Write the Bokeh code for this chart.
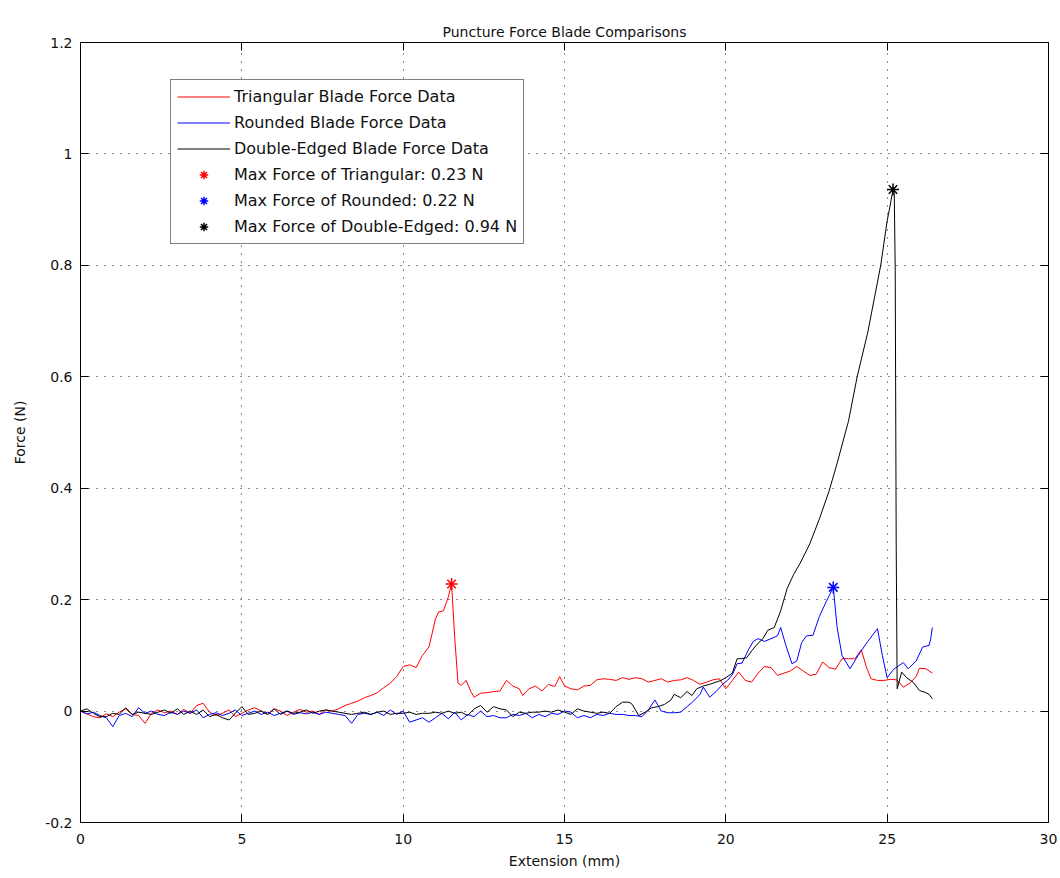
from bokeh.plotting import figure
from bokeh.models import (Range1d, LinearAxis, FixedTicker, CustomJSTickFormatter,
                          Legend, LegendItem, Title)
from bokeh.embed import file_html
from bokeh.resources import INLINE

# ---------------- data ----------------
tri_x = [0.0, 0.2, 0.4, 0.6, 0.8, 1.0, 1.2, 1.4, 1.6, 1.8, 2.0, 2.2, 2.4, 2.6, 2.8, 3.0, 3.2, 3.4, 3.6, 3.8,
         4.0, 4.2, 4.4, 4.6, 4.8, 5.0, 5.2, 5.4, 5.6, 5.8, 6.0, 6.2, 6.4, 6.6, 6.8, 7.0, 7.2, 7.4, 7.6, 7.8, 8.0,
         8.2, 8.4, 8.6, 8.8, 9.0, 9.2, 9.4, 9.6, 9.8, 10.0, 10.2, 10.4, 10.6, 10.8, 10.9, 11.0, 11.1, 11.25,
         11.4, 11.5, 11.6, 11.7, 11.8, 11.95, 12.1, 12.2, 12.4, 12.6, 12.8, 13.0, 13.2, 13.4, 13.6, 13.7, 13.9,
         14.1, 14.3, 14.5, 14.7, 14.85, 15.0, 15.2, 15.4, 15.6, 15.8, 16.0, 16.2, 16.4, 16.6, 16.8, 17.0, 17.2,
         17.4, 17.6, 17.8, 18.0, 18.2, 18.4, 18.6, 18.8, 19.0, 19.2, 19.4, 19.6, 19.8, 20.0, 20.2, 20.4, 20.6,
         20.8, 21.0, 21.2, 21.4, 21.6, 21.8, 22.0, 22.2, 22.4, 22.6, 22.8, 23.0, 23.2, 23.4, 23.6, 23.8, 24.0,
         24.2, 24.35, 24.5, 24.7, 24.9, 25.1, 25.3, 25.5, 25.7, 25.9, 26.0, 26.2, 26.4]
tri_y = [0.000, -0.005, -0.010, -0.012, -0.005, -0.010, -0.002, 0.004, -0.006, -0.008, -0.022, -0.004, 0.002,
         -0.003, 0.000, -0.006, 0.003, -0.004, 0.010, 0.014, -0.002, -0.008, -0.004, 0.002, -0.010, -0.004,
         0.002, 0.006, 0.000, -0.006, 0.004, 0.000, -0.008, -0.002, 0.003, -0.002, 0.000, -0.006, 0.002, 0.000,
         0.004,
         0.010, 0.014, 0.018, 0.024, 0.028, 0.033, 0.042, 0.050, 0.062, 0.080, 0.083, 0.078, 0.100, 0.115,
         0.140, 0.165, 0.178, 0.180, 0.205, 0.228, 0.130, 0.050, 0.046, 0.055, 0.035, 0.025, 0.032, 0.033,
         0.035, 0.036, 0.055, 0.045, 0.040, 0.028, 0.040, 0.045, 0.036, 0.048, 0.044, 0.062, 0.045, 0.040,
         0.038, 0.045, 0.046, 0.056, 0.058, 0.057, 0.055, 0.060, 0.057, 0.060, 0.058, 0.052, 0.055, 0.058,
         0.052, 0.055, 0.056, 0.060, 0.055, 0.048, 0.052, 0.056, 0.058, 0.040, 0.055, 0.070, 0.055, 0.052,
         0.068, 0.080, 0.078, 0.064, 0.068, 0.072, 0.080, 0.072, 0.064, 0.066, 0.088, 0.078, 0.075, 0.094,
         0.094, 0.094, 0.110, 0.080, 0.058, 0.055, 0.055, 0.057, 0.056, 0.043, 0.050, 0.062, 0.077, 0.076,
         0.068]

rnd_x = [0.0, 0.2, 0.4, 0.6, 0.8, 1.0, 1.2, 1.4, 1.6, 1.8, 2.0, 2.2, 2.4, 2.6, 2.8, 3.0, 3.2, 3.4, 3.6, 3.8,
         4.0, 4.2, 4.4, 4.6, 4.8, 5.0, 5.2, 5.4, 5.6, 5.8, 6.0, 6.2, 6.4, 6.6, 6.8, 7.0, 7.2, 7.4, 7.6, 7.8,
         8.0, 8.2, 8.4, 8.6, 8.8, 9.0, 9.2, 9.4, 9.6, 9.8, 10.0, 10.2, 10.4, 10.6, 10.8, 11.0, 11.2, 11.4, 11.6,
         11.8, 12.0, 12.2, 12.4, 12.6, 12.8, 13.0, 13.2, 13.4, 13.6, 13.8, 14.0, 14.2, 14.4, 14.6, 14.8, 15.0,
         15.2, 15.4, 15.6, 15.8, 16.0, 16.2, 16.4, 16.6, 16.8, 17.0, 17.2,
         17.4, 17.6, 17.8, 18.0, 18.2, 18.4, 18.6, 18.8, 19.0, 19.2, 19.3, 19.5, 19.7, 19.9, 20.05, 20.2,
         20.35, 20.5, 20.7, 20.85, 21.0, 21.2, 21.4, 21.6, 21.7, 21.85, 22.05, 22.2, 22.35, 22.5, 22.7, 22.9,
         23.1, 23.33, 23.45, 23.6, 23.85, 24.1, 24.4, 24.7, 24.85, 25.0, 25.2, 25.5, 25.65, 25.9, 26.1, 26.3,
         26.35, 26.4]
rnd_y = [0.000, -0.005, -0.002, -0.008, -0.012, -0.028, -0.008, -0.004, -0.010, 0.006, -0.004, 0.000, -0.006,
         -0.008, -0.002, -0.006, 0.000, -0.004, 0.002, -0.012, -0.006, -0.003, -0.008, -0.004, 0.002, -0.008,
         -0.004, 0.000, -0.006, -0.002, -0.008, -0.004, 0.000, -0.006, -0.003, -0.005, -0.002, -0.006, -0.002,
         -0.004, -0.006, -0.008, -0.022, -0.006, -0.004, -0.006, -0.002, -0.008, 0.002, -0.006, 0.000, -0.020,
         -0.016, -0.012, -0.020, -0.012, -0.004, -0.014, -0.002, -0.016, -0.006, -0.010, 0.000, -0.010, -0.008,
         -0.012, -0.012, -0.006, -0.008, -0.004, -0.012, -0.006, -0.010, -0.004, -0.006, 0.000, -0.002, -0.012,
         -0.008, -0.012, -0.006, -0.008, -0.004, -0.006, -0.006, -0.008, -0.008,
         -0.010, 0.002, 0.020, 0.000, -0.003, -0.003, -0.002, 0.008, 0.018, 0.030, 0.043, 0.025, 0.035, 0.048,
         0.055, 0.065, 0.085, 0.086, 0.110, 0.125, 0.130, 0.125, 0.130, 0.135, 0.150, 0.120, 0.085, 0.090,
         0.123, 0.135, 0.136, 0.170, 0.195, 0.222, 0.150, 0.100, 0.076, 0.100, 0.125, 0.148, 0.100, 0.060,
         0.075, 0.087, 0.076, 0.090, 0.115, 0.118, 0.130, 0.150]

dbl_x = [0.0, 0.2, 0.4, 0.6, 0.8, 1.0, 1.2, 1.4, 1.6, 1.8, 2.0, 2.2, 2.4, 2.6, 2.8, 3.0, 3.2, 3.4, 3.6, 3.8,
         4.0, 4.2, 4.4, 4.6, 4.8, 5.0, 5.2, 5.4, 5.6, 5.8, 6.0, 6.2, 6.4, 6.6, 6.8, 7.0, 7.2, 7.4, 7.6, 7.8,
         8.0, 8.2, 8.4, 8.6, 8.8, 9.0, 9.2, 9.4, 9.6, 9.8, 10.0, 10.2, 10.4, 10.6, 10.8, 11.0, 11.2, 11.4, 11.6,
         11.8, 12.0, 12.2, 12.4, 12.6, 12.8, 13.0, 13.2, 13.4, 13.6, 13.8, 14.0, 14.2, 14.4, 14.6, 14.8, 15.0,
         15.2, 15.4, 15.6, 15.8, 16.0, 16.2, 16.4, 16.6, 16.8, 17.0, 17.1, 17.3, 17.5, 17.7, 17.9, 18.1, 18.3,
         18.4, 18.6, 18.8, 18.95, 19.1, 19.3, 19.5, 19.7, 19.85, 20.0, 20.2, 20.35, 20.5, 20.65, 20.8, 20.97,
         21.15, 21.3, 21.5, 21.7, 21.9, 22.1, 22.3, 22.6, 22.9, 23.2, 23.45, 23.8, 24.07, 24.4, 24.6, 24.8,
         25.0, 25.1, 25.18, 25.22, 25.25, 25.28, 25.31, 25.45, 25.6, 25.8, 26.0, 26.2, 26.3, 26.4]
dbl_y = [0.000, 0.004, -0.004, -0.010, -0.010, -0.004, -0.006, 0.006, -0.006, -0.002, -0.004, -0.006, -0.002,
         0.002, -0.004, 0.004, -0.006, 0.000, -0.006, 0.002, -0.010, -0.006, -0.012, -0.016, -0.004, 0.008,
         -0.006, -0.004, 0.000, -0.006, 0.004, -0.006, 0.000, -0.004, -0.002, 0.002, -0.004, 0.000, 0.002,
         0.000, -0.002, -0.004, -0.006, -0.004, -0.002, -0.006, -0.002, 0.000, -0.006, -0.004, -0.004, -0.002,
         -0.006, -0.004, -0.004, -0.002, -0.004, 0.000, -0.004, -0.002, -0.008, 0.004, 0.010, -0.002, 0.008,
         0.004, 0.002, -0.010, -0.002, -0.004, -0.002, -0.002, 0.000, -0.002, 0.002, -0.002, -0.006, 0.004,
         0.000, -0.002, -0.004, -0.002, -0.004, 0.008, 0.016, 0.016, 0.012, -0.008, -0.002, 0.006, 0.008,
         0.012, 0.020, 0.030, 0.024, 0.035, 0.028, 0.040, 0.045, 0.048, 0.052, 0.055, 0.060, 0.068, 0.094,
         0.094, 0.096, 0.108, 0.120, 0.130, 0.145, 0.150, 0.180, 0.220, 0.245, 0.265, 0.300, 0.345, 0.395,
         0.445, 0.520, 0.600, 0.680, 0.740, 0.800, 0.880, 0.910, 0.936, 0.930, 0.790, 0.300, 0.040, 0.070,
         0.060, 0.052, 0.037, 0.033, 0.030, 0.022]

max_x = [11.5, 23.33, 25.18]
max_y = [0.228, 0.222, 0.936]
max_colors = ["red", "blue", "black"]
line_colors = ["red", "blue", "black"]
line_labels = ["Triangular Blade Force Data", "Rounded Blade Force Data", "Double-Edged Blade Force Data"]
max_labels = ["Max Force of Triangular: 0.23 N", "Max Force of Rounded: 0.22 N",
              "Max Force of Double-Edged: 0.94 N"]
x_ticks = [0, 5, 10, 15, 20, 25, 30]
y_ticks = [-0.2, 0, 0.2, 0.4, 0.6, 0.8, 1.0, 1.2]

FONT = "DejaVu Sans"
TXT = "#111111"

p = figure(width=1060, height=874, output_backend="svg", toolbar_location=None,
           x_range=Range1d(0, 30), y_range=Range1d(-0.2, 1.2),
           x_axis_label="Extension (mm)", y_axis_label="Force (N)",
           min_border_left=80, min_border_right=12, min_border_top=42, min_border_bottom=52)
p.background_fill_color = "white"
p.border_fill_color = "white"
p.outline_line_color = "black"
p.outline_line_width = 1

p.title = Title(text="Puncture Force Blade Comparisons", align="center", standoff=6,
                text_font=FONT, text_font_size="14px", text_font_style="normal",
                text_color=TXT)

fmt = CustomJSTickFormatter(code="return Number(tick.toFixed(1)).toString();")
blank = CustomJSTickFormatter(code="return '';")

for ax in p.xaxis:
    ax.ticker = FixedTicker(ticks=x_ticks)
    ax.major_label_standoff = 11
    ax.axis_label_standoff = 6
for ax in p.yaxis:
    ax.ticker = FixedTicker(ticks=y_ticks)
    ax.formatter = fmt
    ax.major_label_standoff = 8
    ax.axis_label_standoff = 14
for ax in list(p.xaxis) + list(p.yaxis):
    ax.major_tick_in = 8
    ax.major_tick_out = 0
    ax.minor_tick_line_color = None
    ax.axis_line_color = "black"
    ax.major_label_text_font = FONT
    ax.major_label_text_font_size = "14px"
    ax.major_label_text_color = TXT
    ax.axis_label_text_font = FONT
    ax.axis_label_text_font_size = "14px"
    ax.axis_label_text_font_style = "normal"
    ax.axis_label_text_color = TXT

top = LinearAxis(ticker=FixedTicker(ticks=x_ticks), formatter=blank,
                 major_tick_in=8, major_tick_out=0, minor_tick_line_color=None,
                 axis_line_color="black", major_label_standoff=0)
right = LinearAxis(ticker=FixedTicker(ticks=y_ticks), formatter=blank,
                   major_tick_in=8, major_tick_out=0, minor_tick_line_color=None,
                   axis_line_color="black", major_label_standoff=0)
p.add_layout(top, "above")
p.add_layout(right, "right")

for g in [p.xgrid[0], p.ygrid[0]]:
    g.grid_line_color = "black"
    g.grid_line_dash = "1 7"
    g.grid_line_width = 1
    g.grid_line_alpha = 0.9
p.xgrid[0].ticker = FixedTicker(ticks=x_ticks)
p.ygrid[0].ticker = FixedTicker(ticks=y_ticks)

line_renderers = []
for xs, ys, c in zip([tri_x, rnd_x, dbl_x], [tri_y, rnd_y, dbl_y], line_colors):
    line_renderers.append(p.line(xs, ys, line_color=c, line_width=1))

stars = []
for mx, my, c in zip(max_x, max_y, max_colors):
    s = p.scatter([mx], [my], marker="asterisk", size=12, line_color=c, line_width=1.5)
    stars.append(s)

items = [LegendItem(label=l, renderers=[r]) for l, r in zip(line_labels, line_renderers)]
items += [LegendItem(label=l, renderers=[s]) for l, s in zip(max_labels, stars)]
legend = Legend(items=items, location=(90, 578), border_line_color="black", border_line_width=1,
                label_text_font=FONT, label_text_font_size="16px", label_text_color=TXT,
                glyph_width=53, glyph_height=21, label_height=21, spacing=5, padding=6, margin=0,
                label_standoff=4, background_fill_alpha=1)
p.add_layout(legend, "center")

open("out.html", "w").write(file_html(p, INLINE))
